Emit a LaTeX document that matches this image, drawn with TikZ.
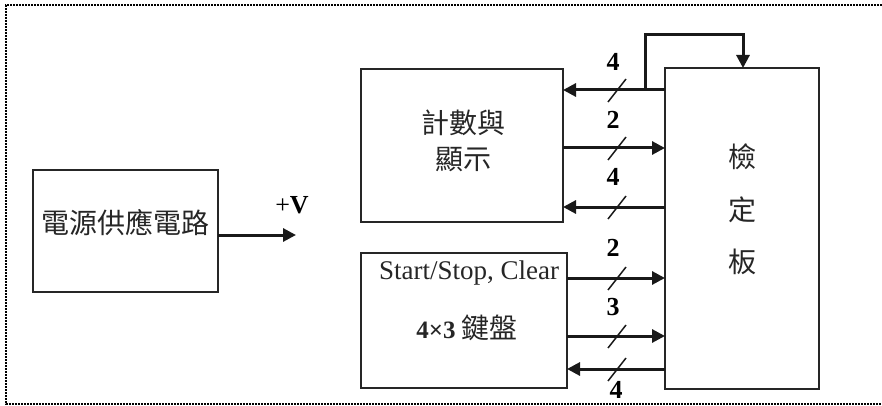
\documentclass[tikz,border=0pt]{standalone}
\usepackage{fontspec}
\setmainfont{Liberation Serif}
\newfontfamily\cjk{Noto Sans CJK TC}
\usetikzlibrary{arrows.meta}
\begin{document}
\begin{tikzpicture}[x=1pt,y=-1pt,
  box/.style={draw=black!85, line width=1.5pt, inner sep=0pt, outer sep=0pt},
  bus/.style={line width=3pt, draw=black!90, -{Triangle[length=13pt,width=13pt]}},
  wire/.style={line width=3pt, draw=black!90},
  lbl/.style={font=\fontsize{26}{26}\selectfont\bfseries, inner sep=0pt},
  cjkt/.style={font=\fontsize{28}{28}\selectfont\cjk, inner sep=0pt, text=black!85},
  tick/.style={line width=1.5pt, draw=black!90},
  frame/.style={line width=2.4pt, draw=black, dash pattern=on 2pt off 1pt}]
\useasboundingbox (0,0) rectangle (882,406);
% outer frame (open on the right)
\draw[frame] (882,5) -- (6,5) -- (6,404) -- (882,404);
% boxes
\node[box, minimum width=185pt, minimum height=122pt] (pwr) at (125.5,231) {};
\node[box, minimum width=202pt, minimum height=153pt] (cnt) at (462,145.5) {};
\node[box, minimum width=206pt, minimum height=135pt] (kbd) at (464,320.5) {};
\node[box, minimum width=154pt, minimum height=321pt] (brd) at (742,228.5) {};
% texts
\node[cjkt] (pt) at (125.5,223) {電源供應電路};
\node[inner sep=0pt, font=\fontsize{26}{26}\selectfont] (pv) at (292,205) {+\textbf{V}};
\node[cjkt] (c1) at (463,123) {計數與};
\node[cjkt] (c2) at (463,160) {顯示};
\node[cjkt] (b1) at (742,157) {檢};
\node[cjkt] (b2) at (742,210) {定};
\node[cjkt] (b3) at (742,262) {板};
\node[inner sep=0pt, font=\fontsize{27}{27}\selectfont, text=black!85] (k1) at (469,273) {Start/Stop, Clear};
\node[inner sep=0pt, text=black!85] (k2) at (467,328) {\fontsize{25}{25}\selectfont\bfseries 4×3 {\cjk\mdseries\fontsize{28}{28}\selectfont 鍵盤}};
% connectors
\coordinate (vout) at (296,235);
\draw[bus] (pwr.east |- vout) -- (vout);
\coordinate (y1) at (0,90);
\coordinate (y2) at (0,148);
\coordinate (y3) at (0,207);
\coordinate (y4) at (0,278);
\coordinate (y5) at (0,336);
\coordinate (y6) at (0,369);
\draw[bus] (brd.west |- y1) -- (cnt.east |- y1);
\draw[bus] (cnt.east |- y2) -- (brd.west |- y2);
\draw[bus] (brd.west |- y3) -- (cnt.east |- y3);
\draw[bus] (kbd.east |- y4) -- (brd.west |- y4);
\draw[bus] (kbd.east |- y5) -- (brd.west |- y5);
\draw[bus] (brd.west |- y6) -- (kbd.east |- y6);
% feedback loop
\coordinate (fb) at (645,90);
\coordinate (fbtop) at (743,35);
\draw[bus] (fb) |- (fbtop) -- (brd.north -| fbtop);
% bus width ticks
\foreach \yy in {90,148,207,278,336,369}
  \draw[tick] (608,\yy+12) -- (626,\yy-11);
% bus width labels
\node[lbl] (n1) at (613,62) {4};
\node[lbl] (n2) at (613,120) {2};
\node[lbl] (n3) at (613,177) {4};
\node[lbl] (n4) at (613,248) {2};
\node[lbl] (n5) at (613,307) {3};
\node[lbl] (n6) at (616,390) {4};
\end{tikzpicture}
\end{document}
